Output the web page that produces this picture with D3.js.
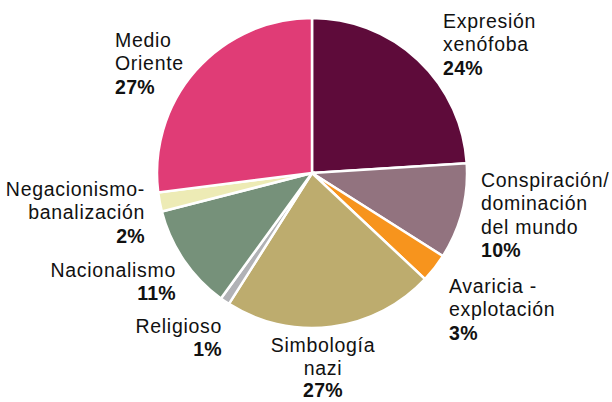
<!DOCTYPE html>
<html>
<head>
<meta charset="utf-8">
<script src="https://cdn.jsdelivr.net/npm/d3@7/dist/d3.min.js"></script>
<style>
  html, body { margin: 0; padding: 0; background: #fff; }
  svg { display: block; }
  text { font-family: "Liberation Sans", Arial, sans-serif; fill: #111; }
</style>
</head>
<body>
<svg id="chart" width="612" height="402"></svg>
<script>
// Data (clockwise from 12 o'clock)
const categories = ["Expresión xenófoba", "Conspiración/ dominación del mundo", "Avaricia - explotación", "Simbología nazi", "Religioso", "Nacionalismo", "Negacionismo- banalización", "Medio Oriente"];
const values = [24, 10, 3, 22, 1, 11, 2, 27];
const pctLabels = ["24%", "10%", "3%", "27%", "1%", "11%", "2%", "27%"];
const labelLines = [
  ["Expresión", "xenófoba"],
  ["Conspiración/", "dominación", "del mundo"],
  ["Avaricia -", "explotación"],
  ["Simbología", "nazi"],
  ["Religioso"],
  ["Nacionalismo"],
  ["Negacionismo-", "banalización"],
  ["Medio", "Oriente"]
];
const colors = ["#5e0b3a", "#92737f", "#f7941d", "#bdac6e", "#b1b2b6", "#76917a", "#edebb5", "#e03c76"];

// Layout (label anchors: x, first baseline y, text-anchor, line height)
const labelPos = [
  {x: 443, y: 28, a: "start", h: 23.3},
  {x: 481, y: 187, a: "start", h: 23.3},
  {x: 449, y: 293, a: "start", h: 23.3},
  {x: 323, y: 352, a: "middle", h: 22.6},
  {x: 222, y: 333, a: "end", h: 23.3},
  {x: 176, y: 277, a: "end", h: 23.3},
  {x: 145, y: 196, a: "end", h: 23.3},
  {x: 115, y: 47, a: "start", h: 23.3}
];

const svg = d3.select("#chart");
const cx = 312, cy = 173, r = 155;
const g = svg.append("g").attr("transform", `translate(${cx},${cy})`);

const pie = d3.pie().sort(null).value(d => d)(values);
const arc = d3.arc().innerRadius(0).outerRadius(r);

g.selectAll("path").data(pie).join("path")
  .attr("d", arc)
  .attr("fill", (d, i) => colors[i])
  .attr("stroke", "#fff")
  .attr("stroke-width", 2.5)
  .attr("stroke-linejoin", "miter");

categories.forEach((c, i) => {
  const p = labelPos[i];
  const lines = labelLines[i].concat([pctLabels[i]]);
  lines.forEach((ln, k) => {
    const isPct = k === lines.length - 1;
    svg.append("text")
      .attr("x", p.x)
      .attr("y", p.y + k * p.h)
      .attr("text-anchor", p.a)
      .attr("font-size", 19.5)
      .attr("letter-spacing", isPct ? 0.3 : 0.7)
      .attr("font-weight", isPct ? "bold" : "normal")
      .text(ln);
  });
});
</script>
</body>
</html>
